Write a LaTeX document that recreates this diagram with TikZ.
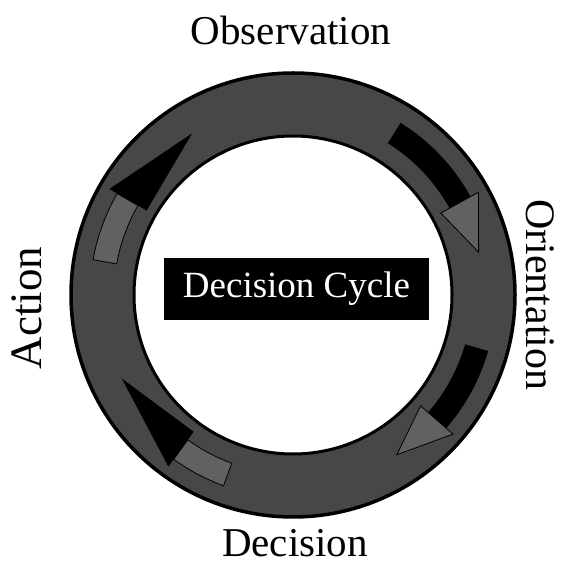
\documentclass[tikz,border=0pt]{standalone}
\usepackage{fontspec}
\setmainfont{Liberation Serif}
\begin{document}
\begin{tikzpicture}[x=1pt,y=1pt,
  ringfill/.style={fill=black!72},
  arrowdark/.style={fill=black},
  arrowlight/.style={fill=black!62, draw=black, line width=0.8},
  label/.style={font=\fontsize{41}{41}\selectfont, inner sep=0pt}]
\useasboundingbox (0,0) rectangle (560,570);
\fill[white] (0,0) rectangle (560,570);
\begin{scope}[shift={(293,275)}]
  % ring
  \fill[ringfill, even odd rule] (0,0) circle (222) (0,0) circle (159);
  \draw[line width=3.5] (0,0) circle (222);
  \draw[line width=3] (0,0) circle (159);
  % top-right arrow (Observation -> Orientation): dark body, light head
  \fill[arrowdark] (58:203) arc[start angle=58, end angle=29, radius=203] -- (29:179) arc[start angle=29, end angle=58, radius=179] -- cycle;
  \filldraw[arrowlight] (29:212) -- (13:190.5) -- (29:169) -- cycle;
  % bottom-right arrow (Orientation -> Decision)
  \fill[arrowdark] (-16:203) arc[start angle=-16, end angle=-41, radius=203] -- (-41:179) arc[start angle=-41, end angle=-16, radius=179] -- cycle;
  \filldraw[arrowlight] (-41:212) -- (-57:190.5) -- (-41:169) -- cycle;
  % bottom-left arrow (Decision -> Action): light body, dark head
  \filldraw[arrowlight] (-110:203) arc[start angle=-110, end angle=-126, radius=203] -- (-126:179) arc[start angle=-126, end angle=-110, radius=179] -- cycle;
  \fill[arrowdark] (-126:212) -- (-154:190.5) -- (-126:169) -- cycle;
  % top-left arrow (Action -> Observation)
  \filldraw[arrowlight] (170:203) arc[start angle=170, end angle=150, radius=203] -- (150:179) arc[start angle=150, end angle=170, radius=179] -- cycle;
  \fill[arrowdark] (150:212) -- (122:190.5) -- (150:169) -- cycle;
\end{scope}
% central box
\node[fill=black, text=white, minimum width=265, minimum height=62, inner sep=0pt,
      font=\fontsize{37}{37}\selectfont] (dc) at (296.5,281) {Decision Cycle};
% labels
\node[label, anchor=base] (obs) at (291,525) {Observation};
\node[label, anchor=base] (dec) at (295,13) {Decision};
\node[label, anchor=base, rotate=90, font=\fontsize{45}{45}\selectfont] (act) at (42,262) {Action};
\node[label, anchor=base, rotate=-90, font=\fontsize{42}{42}\selectfont] (ori) at (526,275) {Orientation};
\end{tikzpicture}
\end{document}
